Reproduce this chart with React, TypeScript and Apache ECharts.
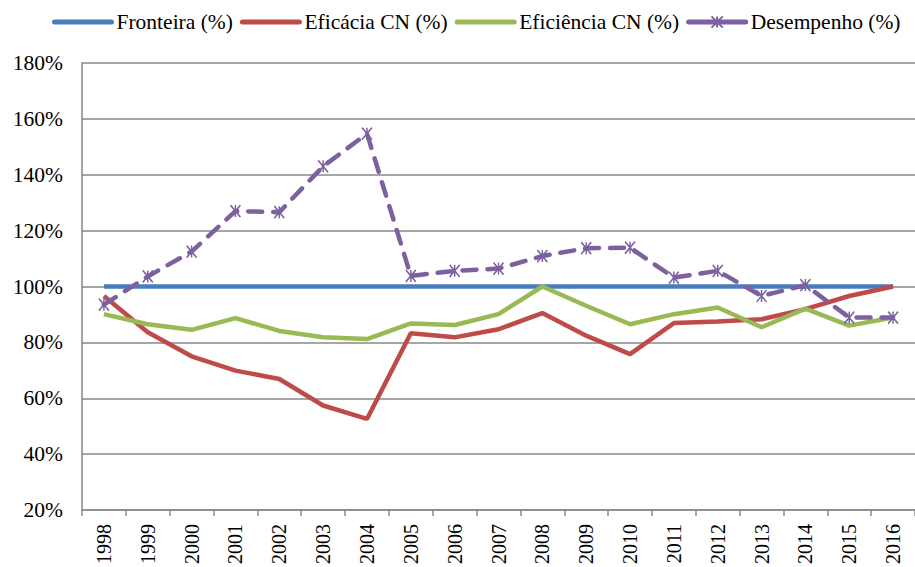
import React, { useEffect, useRef } from "react";
import * as echarts from "echarts";

const years = ["1998","1999","2000","2001","2002","2003","2004","2005","2006","2007","2008","2009","2010","2011","2012","2013","2014","2015","2016"];
const fronteira = [100,100,100,100,100,100,100,100,100,100,100,100,100,100,100,100,100,100,100];
const eficacia = [96.6,83.6,75,69.9,66.9,57.4,52.6,83.3,81.8,84.7,90.5,82.4,75.8,86.9,87.5,88.3,91.9,96.6,100];
const eficiencia = [90.1,86.5,84.5,88.7,84.1,81.8,81.2,86.8,86.2,90.1,100,93.1,86.5,90.1,92.5,85.4,92.1,86,88.9];
const desempenho = [93.5,103.6,112.5,127,126.6,143,154.7,103.8,105.6,106.4,110.9,113.7,113.9,103.2,105.6,96.6,100.5,88.9,88.9];
const yTicks = { min: 20, max: 180, interval: 20 };

const FONT = "Times New Roman, Liberation Serif, Tinos, DejaVu Serif, serif";
const STAR = "path://M0,0L10,12M10,0L0,12M5,0L5,12";

export default function App() {
  const ref = useRef<HTMLDivElement>(null);
  useEffect(() => {
    if (!ref.current) return;
    const chart = echarts.init(ref.current, null, { renderer: "svg" });
    chart.setOption({
      animation: false,
      backgroundColor: "#ffffff",
      textStyle: { fontFamily: FONT, color: "#000" },
      legend: {
        left: 47,
        top: 6,
        itemWidth: 57,
        itemHeight: 14,
        itemGap: 7,
        textStyle: { fontFamily: FONT, fontSize: 21.5, color: "#000" },
        lineStyle: { type: "solid", width: 5, cap: "round" },
        data: [
          { name: "Fronteira (%)", itemStyle: { opacity: 0 } },
          { name: "Eficácia CN (%)", itemStyle: { opacity: 0 } },
          { name: "Eficiência CN (%)", itemStyle: { opacity: 0 } },
          { name: "Desempenho (%)" },
        ],
      },
      grid: { left: 82, top: 63, width: 840, height: 448 },
      xAxis: {
        type: "category",
        data: years,
        boundaryGap: true,
        axisLine: { lineStyle: { color: "#898989", width: 1.5 } },
        axisTick: { show: true, length: 6, lineStyle: { color: "#898989", width: 1.5 } },
        axisLabel: { rotate: 90, fontFamily: FONT, fontSize: 20, color: "#000", margin: 14, interval: 0 },
        splitLine: { show: false },
      },
      yAxis: {
        type: "value",
        min: yTicks.min,
        max: yTicks.max,
        interval: yTicks.interval,
        axisLine: { show: true, lineStyle: { color: "#898989", width: 1.5 } },
        axisTick: { show: false },
        axisLabel: { formatter: "{value}%", fontFamily: FONT, fontSize: 21.5, color: "#000", margin: 19 },
        splitLine: { show: true, lineStyle: { color: "#898989", width: 1.5 } },
      },
      series: [
        {
          name: "Fronteira (%)",
          type: "line",
          data: fronteira,
          symbol: "none",
          lineStyle: { color: "#4A7EBB", width: 4.5 },
          itemStyle: { color: "#4A7EBB" },
        },
        {
          name: "Eficácia CN (%)",
          type: "line",
          data: eficacia,
          symbol: "none",
          lineStyle: { color: "#BE4B48", width: 4.5 },
          itemStyle: { color: "#BE4B48" },
        },
        {
          name: "Eficiência CN (%)",
          type: "line",
          data: eficiencia,
          symbol: "none",
          lineStyle: { color: "#98B954", width: 4.5 },
          itemStyle: { color: "#98B954" },
        },
        {
          name: "Desempenho (%)",
          type: "line",
          data: desempenho,
          symbol: STAR,
          symbolSize: [10, 12],
          showAllSymbol: true,
          lineStyle: { color: "#7D60A0", width: 4.5, type: [14, 11], cap: "round" },
          itemStyle: { color: "#7D60A0", borderColor: "#7D60A0", borderWidth: 1.6 },
        },
      ],
    });
    return () => chart.dispose();
  }, []);
  return (
    <div
      ref={ref}
      style={{ position: "absolute", left: 0, top: 0, width: 915, height: 567 }}
    />
  );
}
